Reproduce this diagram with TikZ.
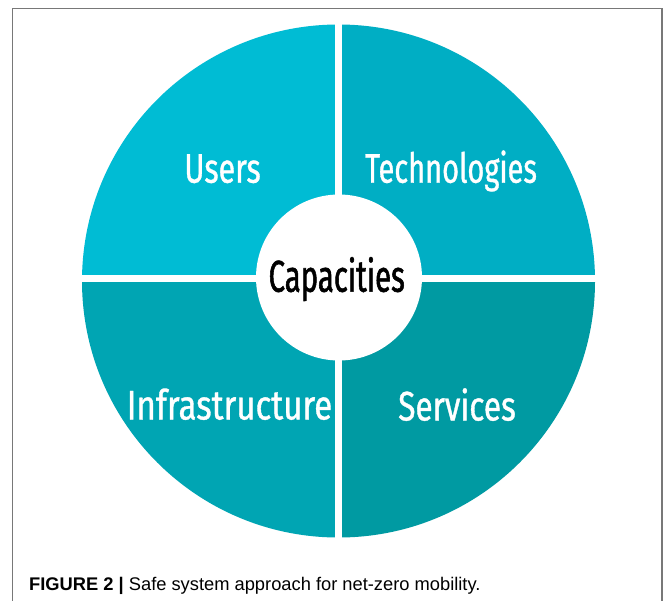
\documentclass[tikz,border=0pt]{standalone}
\usepackage{fontspec}
\setmainfont{Liberation Sans}
\newfontfamily\condfont[FakeStretch=0.7,FakeBold=0.8]{Fira Sans}
\newfontfamily\condbfont[FakeStretch=0.66,FakeBold=1.2]{Fira Sans}
\definecolor{cusers}{RGB}{0,188,212}
\definecolor{ctech}{RGB}{0,174,196}
\definecolor{cinfra}{RGB}{0,165,179}
\definecolor{cserv}{RGB}{0,154,162}
\definecolor{cframe}{RGB}{120,120,120}
\tikzset{
  quadlabel/.style={anchor=base, inner sep=0pt, text=white, font=\condfont\fontsize{41.4}{44}\selectfont},
  centrelabel/.style={anchor=base, inner sep=0pt, text=black, font=\condbfont\fontsize{44.5}{46}\selectfont},
  gap/.style={draw=white, line width=7pt},
}
\begin{document}
\begin{tikzpicture}[x=1pt,y=-1pt]
\useasboundingbox (0,0) rectangle (663,600);
\fill[white] (0,0) rectangle (663,600);
% frame
\draw[cframe, line width=1.4pt] (12.5,620) -- (12.5,8.3) -- (662,8.3) -- (662,620);
% wheel
\coordinate (c) at (338.5,281);
\begin{scope}
\clip (c) circle[radius=256.5];
\fill[cusers] (c) rectangle (70,15);
\fill[ctech]  (c) rectangle (610,15);
\fill[cinfra] (c) rectangle (70,550);
\fill[cserv]  (c) rectangle (610,550);
\end{scope}
\coordinate (vt) at (338.5,15);
\coordinate (vb) at (338.5,548);
\coordinate (hl) at (70,278);
\coordinate (hr) at (610,278);
\draw[gap] (vt) -- (vb);
\draw[gap] (hl) -- (hr);
\node[circle, fill=white, minimum size=166pt, inner sep=0pt] (hub) at (339,277.5) {};
% labels
\node[quadlabel] (users) at (222.5,182.7) {\scalebox{1.05}[1]{Users}};
\node[quadlabel] (tech) at (451,182.7) {Technologies};
\node[quadlabel] (infra) at (229.5,419.5) {\scalebox{1.14}[1]{Infrastructure}};
\node[quadlabel] (serv) at (457,420.5) {\scalebox{1.09}[1]{Services}};
\node[centrelabel] (cap) at (336.7,291.7) {Capacities};
% caption
\node[anchor=base west, inner sep=0pt, font=\fontsize{18.3}{20}\selectfont] (caption) at (29,590) {\textbf{FIGURE 2 |} Safe system approach for net-zero mobility.};
\end{tikzpicture}
\end{document}
